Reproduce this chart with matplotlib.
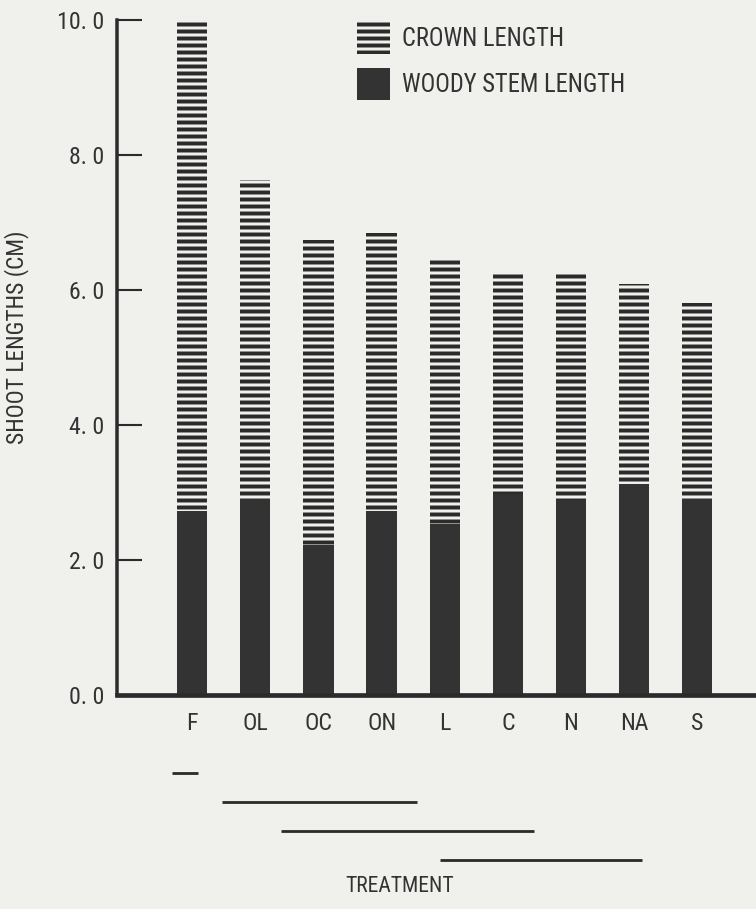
import matplotlib
matplotlib.use("Agg")
import matplotlib.pyplot as plt
import matplotlib.transforms as mtransforms
from matplotlib import font_manager
from matplotlib.ticker import FixedLocator, FuncFormatter

# shoot lengths per treatment (cm)
treatments = ["F", "OL", "OC", "ON", "L", "C", "N", "NA", "S"]
woody_stem = [2.73, 2.90, 2.22, 2.73, 2.53, 2.98, 2.89, 3.13, 2.90]
crown = [7.27, 4.73, 4.52, 4.11, 3.91, 3.29, 3.38, 2.96, 2.91]
yticks = [0, 2, 4, 6, 8, 10]

# treatments not significantly different (span in treatment positions)
group_start = [-0.32, 0.48, 1.40, 3.92]
group_end = [0.10, 3.56, 5.41, 7.13]

names = {f.name for f in font_manager.fontManager.ttflist}
fams = [f for f in ["Roboto Condensed", "Liberation Sans Narrow", "Roboto"] if f in names]

bg = "#f0f0ed"
ink = "#2b2b2b"
txt = "#333333"
plt.rcParams["font.family"] = fams + ["DejaVu Sans"]
plt.rcParams["hatch.linewidth"] = 3.4
plt.rcParams["hatch.color"] = ink

fig = plt.figure(figsize=(9.0, 909 / 84), dpi=84, facecolor=bg)
ax = fig.add_axes([117 / 756, 1 - 695 / 909, 1 - 117 / 756, (695 - 20) / 909])
ax.set_facecolor(bg)

x = list(range(len(treatments)))
ax.bar(x, woody_stem, width=0.48, color="#333333", linewidth=0,
       label="WOODY STEM LENGTH", zorder=2)
ax.bar(x, crown, bottom=woody_stem, width=0.48, color=bg, edgecolor=ink,
       hatch="--", linewidth=0, label="CROWN LENGTH", zorder=2)

ax.set_xlim(-1.19, 8.93)
ax.set_ylim(0, 10)
for s in ["top", "right"]:
    ax.spines[s].set_visible(False)
ax.spines["left"].set_linewidth(3.0)
ax.spines["left"].set_color(ink)
ax.spines["bottom"].set_linewidth(4.0)
ax.spines["bottom"].set_color(ink)
ax.spines["bottom"].set_zorder(3)

ax.yaxis.set_major_locator(FixedLocator(yticks))
ax.yaxis.set_major_formatter(FuncFormatter(lambda v, p: f"{int(v)}. 0"))
ax.tick_params(axis="y", direction="in", length=21, width=1.8, color=ink,
               pad=11, labelsize=20.5, labelcolor=txt)
ax.set_xticks(x)
ax.set_xticklabels(treatments)
ax.tick_params(axis="x", length=0, pad=15, labelsize=20.5, labelcolor=txt)

# significance lines under the treatment labels
trans = mtransforms.blended_transform_factory(ax.transData, fig.transFigure)
for i, (a, b) in enumerate(zip(group_start, group_end)):
    yy = 1 - (773 + 29 * i) / 909
    ax.plot([a, b], [yy, yy], transform=trans, color=ink, lw=2.4,
            clip_on=False, solid_capstyle="butt")

handles, labels = ax.get_legend_handles_labels()
fig.legend(handles[::-1], labels[::-1], loc="upper left",
           bbox_to_anchor=(357 / 756, 1 - 22 / 909), frameon=False,
           fontsize=21, handlelength=1.35, handleheight=1.64,
           handletextpad=0.5, labelspacing=0.58, borderpad=0,
           borderaxespad=0, labelcolor=txt)

fig.text(17 / 756, 1 - 337 / 909, "SHOOT LENGTHS (CM)", rotation=90,
         ha="center", va="center", fontsize=20, color=txt)
fig.text(400 / 756, 1 - 887 / 909, "TREATMENT", ha="center", va="center",
         fontsize=18.5, color=txt)

fig.savefig("out.png", dpi=84, facecolor=bg)
